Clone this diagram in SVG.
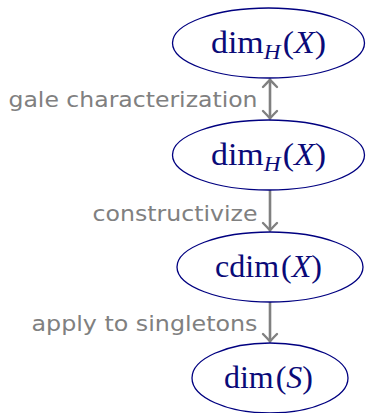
<svg xmlns="http://www.w3.org/2000/svg" width="366" height="413" viewBox="0 0 366 413">
<style>
.node ellipse{fill:none;stroke:#000080;stroke-width:1.3}
.m{font-family:"Liberation Serif","DejaVu Serif",serif;font-size:32px;fill:#0a0a78;text-anchor:middle}
.it{font-style:italic}
.sub{font-style:italic;font-size:22px}
.lbl{font-family:"DejaVu Sans","Liberation Sans",sans-serif;font-size:21px;fill:#808080;text-anchor:end}
.edge{stroke:#808080;stroke-width:2.6;fill:none}
</style>
<defs>
<marker id="tip" markerUnits="userSpaceOnUse" viewBox="-12 -12 24 24" markerWidth="24" markerHeight="24" refX="0" refY="0" orient="auto-start-reverse">
<path d="M -7 -7 Q -2 -2 0.5 0 Q -2 2 -7 7" fill="none" stroke="#808080" stroke-width="2.4" stroke-linecap="round"/>
</marker>
</defs>
<g id="connectors">
<line class="edge" x1="270" y1="80" x2="270" y2="118" marker-start="url(#tip)" marker-end="url(#tip)"/>
<text class="lbl" x="257.5" y="106.5" textLength="249" lengthAdjust="spacingAndGlyphs">gale characterization</text>
<line class="edge" x1="270" y1="190" x2="270" y2="230" marker-end="url(#tip)"/>
<text class="lbl" x="257.5" y="221" textLength="165" lengthAdjust="spacingAndGlyphs">constructivize</text>
<line class="edge" x1="270" y1="302" x2="270" y2="341" marker-end="url(#tip)"/>
<text class="lbl" x="257.5" y="331" textLength="226" lengthAdjust="spacingAndGlyphs">apply to singletons</text>
</g>
<g id="n1" class="node">
<ellipse cx="268.5" cy="43" rx="96" ry="35"/>
<text class="m" x="268.5" y="53" textLength="115" lengthAdjust="spacingAndGlyphs">dim<tspan class="sub" dy="6">H</tspan><tspan dy="-6" dx="2">(</tspan><tspan class="it">X</tspan>)</text>
</g>
<g id="n2" class="node">
<ellipse cx="268.5" cy="155" rx="96" ry="35"/>
<text class="m" x="268.5" y="165" textLength="115" lengthAdjust="spacingAndGlyphs">dim<tspan class="sub" dy="6">H</tspan><tspan dy="-6" dx="2">(</tspan><tspan class="it">X</tspan>)</text>
</g>
<g id="n3" class="node">
<ellipse cx="270" cy="267" rx="93" ry="35"/>
<text class="m" x="268.5" y="277" textLength="107" lengthAdjust="spacingAndGlyphs">cdim<tspan dx="2">(</tspan><tspan class="it">X</tspan>)</text>
</g>
<g id="n4" class="node">
<ellipse cx="270" cy="378" rx="78" ry="35"/>
<text class="m" x="268.5" y="388" textLength="89" lengthAdjust="spacingAndGlyphs">dim<tspan dx="2">(</tspan><tspan class="it">S</tspan>)</text>
</g>
</svg>
